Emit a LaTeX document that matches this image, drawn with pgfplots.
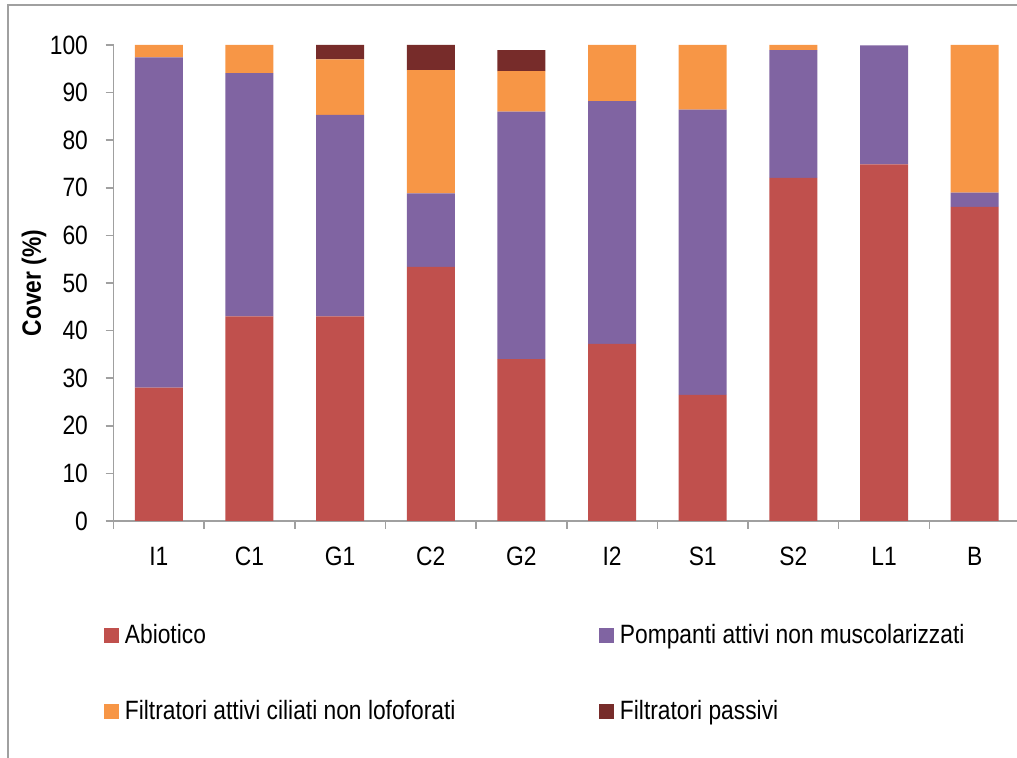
\documentclass[border=0pt]{standalone}
\usepackage{fontspec}
\setmainfont[FakeStretch=0.86]{Liberation Sans}
\usepackage{pgfplots}
\pgfplotsset{compat=1.18}
\usepackage{pgfplotstable}
\definecolor{cA}{HTML}{C0504D}
\definecolor{cP}{HTML}{8064A2}
\definecolor{cF}{HTML}{F79646}
\definecolor{cPa}{HTML}{772C2A}
\definecolor{axisgray}{HTML}{A0A0A0}
\pgfplotstableread{
x A P F Pa
0 28.0 69.4 2.6 0
1 43.0 51.1 5.9 0
2 43.0 42.3 11.7 3.0
3 53.4 15.4 25.9 5.3
4 34.0 52.0 8.5 4.4
5 37.2 51.0 11.8 0
6 26.5 59.9 13.6 0
7 72.1 26.8 1.1 0
8 74.9 25.0 0 0
9 66.0 3.0 31.0 0
}\data
\begin{document}
\fontsize{13.25}{15.9}\selectfont
\begin{tikzpicture}
\useasboundingbox (0,0) rectangle (508.5pt,379pt);
\clip (0,0) rectangle (508.5pt,379pt);
\draw[color=axisgray, line width=0.75pt] (4pt,-10pt) -- (4pt,376.5pt) -- (520pt,376.5pt);
\begin{axis}[
  at={(56.75pt,118.5pt)}, anchor=south west,
  scale only axis, width=453.25pt, height=238pt,
  ybar stacked, bar width=24pt,
  xmin=-0.5, xmax=9.5, ymin=0, ymax=100,
  axis x line*=bottom, axis y line*=left,
  axis line style={axisgray, line width=0.75pt, -},
  xtick={-0.5,0.5,...,9.5},
  xticklabels={I1,C1,G1,C2,G2,I2,S1,S2,L1,B,{}},
  xticklabel style={anchor=center, inner sep=0pt, xshift=22.66pt, yshift=-13.5pt},
  ytick={0,10,...,100},
  yticklabel style={anchor=east, inner sep=0pt, xshift=-8.6pt},
  tick align=outside, major tick length=4pt,
  tick style={axisgray, line width=0.75pt},
  /pgf/number format/assume math mode=true,
  ticklabel style={font=\fontsize{13.25}{15.9}\selectfont},
  ylabel={\bfseries Cover (\%)},
  every axis y label/.style={at={(axis description cs:-0.0877,0.5)}, rotate=90, anchor=center, font=\fontsize{13.25}{15.9}\selectfont},
  legend columns=2,
  legend cell align=left,
  legend style={draw=none, fill=none, inner sep=0pt, font=\fontsize{13.25}{15.9}\selectfont,
    at={(axis description cs:-0.0105,-0.2164)}, anchor=north west,
    nodes={inner sep=0pt},
    /tikz/column 1/.style={column sep=2.75pt},
    /tikz/column 2/.style={column sep=72pt},
    /tikz/column 3/.style={column sep=2.75pt},
    /tikz/row sep=26.3pt},
  sq/.style={legend image code/.code={\fill[##1] (0pt,-3.75pt) rectangle (7.5pt,3.75pt);}},
]
\addplot[fill=cA, draw=none, sq] table[x=x, y=A] {\data};
\addplot[fill=cP, draw=none, sq] table[x=x, y=P] {\data};
\addplot[fill=cF, draw=none, sq] table[x=x, y=F] {\data};
\addplot[fill=cPa, draw=none, sq] table[x=x, y=Pa] {\data};
\legend{Abiotico, Pompanti attivi non muscolarizzati, Filtratori attivi ciliati non lofoforati, Filtratori passivi}
\end{axis}
\end{tikzpicture}
\end{document}
